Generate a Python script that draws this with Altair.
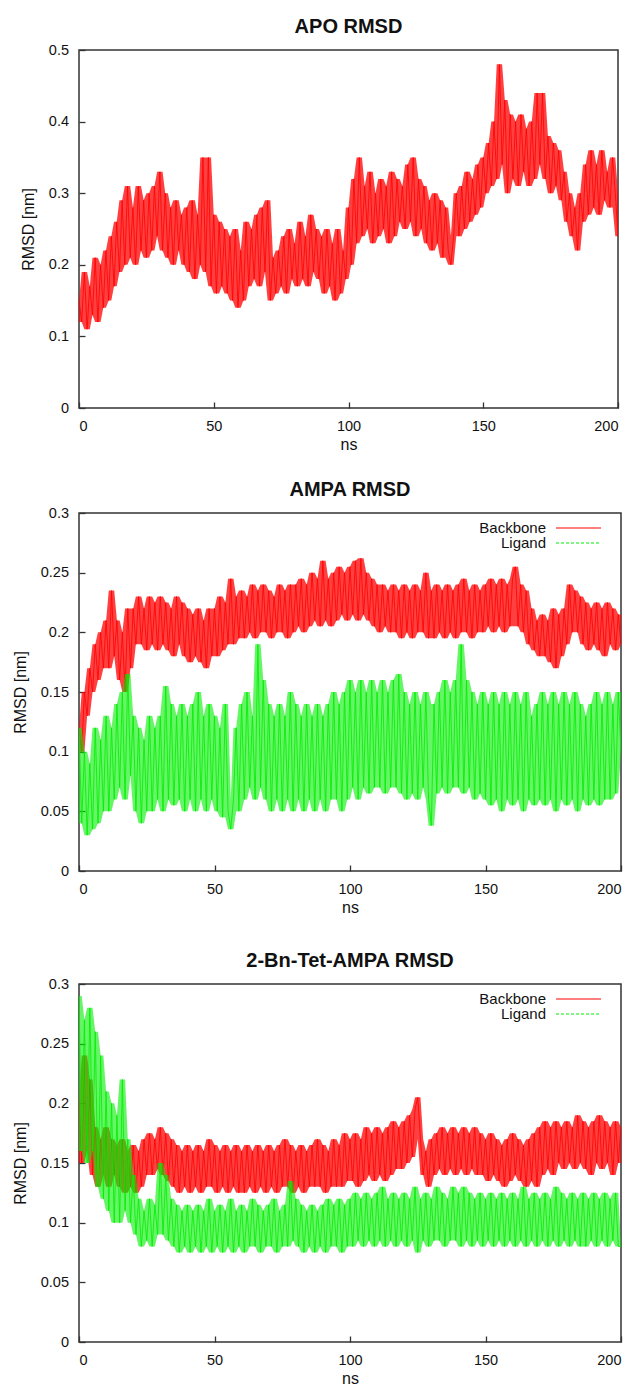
import altair as alt
import pandas as pd

# ---------------- data ----------------
ns = list(range(201))  # time in ns, one sample per ns

apo_backbone = [
    0.15, 0.12, 0.19, 0.11, 0.17, 0.13, 0.21, 0.12, 0.20, 0.14,
    0.22, 0.15, 0.24, 0.17, 0.26, 0.19, 0.29, 0.20, 0.31, 0.21,
    0.28, 0.20, 0.31, 0.22, 0.29, 0.21, 0.30, 0.22, 0.31, 0.24,
    0.33, 0.22, 0.30, 0.21, 0.28, 0.20, 0.29, 0.22, 0.27, 0.20,
    0.28, 0.19, 0.29, 0.18, 0.27, 0.20, 0.35, 0.19, 0.35, 0.17,
    0.27, 0.16, 0.26, 0.17, 0.25, 0.16, 0.24, 0.15, 0.25, 0.14,
    0.22, 0.15, 0.26, 0.17, 0.25, 0.18, 0.27, 0.17, 0.28, 0.19,
    0.29, 0.15, 0.21, 0.16, 0.22, 0.17, 0.24, 0.16, 0.25, 0.18,
    0.23, 0.17, 0.26, 0.18, 0.24, 0.17, 0.27, 0.19, 0.25, 0.18,
    0.24, 0.16, 0.25, 0.17, 0.23, 0.15, 0.25, 0.16, 0.22, 0.18,
    0.28, 0.20, 0.32, 0.23, 0.35, 0.24, 0.31, 0.25, 0.33, 0.23,
    0.30, 0.24, 0.32, 0.25, 0.31, 0.23, 0.33, 0.24, 0.32, 0.26,
    0.31, 0.25, 0.34, 0.26, 0.35, 0.24, 0.32, 0.25, 0.31, 0.23,
    0.29, 0.22, 0.30, 0.23, 0.29, 0.21, 0.28, 0.22, 0.20, 0.24,
    0.30, 0.24, 0.31, 0.25, 0.33, 0.26, 0.32, 0.27, 0.34, 0.28,
    0.35, 0.30, 0.37, 0.31, 0.40, 0.32, 0.48, 0.34, 0.43, 0.30,
    0.41, 0.32, 0.40, 0.31, 0.41, 0.33, 0.39, 0.31, 0.40, 0.32,
    0.44, 0.34, 0.44, 0.32, 0.38, 0.30, 0.37, 0.31, 0.36, 0.29,
    0.33, 0.26, 0.30, 0.24, 0.28, 0.22, 0.30, 0.26, 0.34, 0.27,
    0.36, 0.28, 0.34, 0.27, 0.36, 0.29, 0.33, 0.28, 0.35, 0.30,
    0.24,
]

ampa_backbone = [
    0.12, 0.10, 0.15, 0.13, 0.17, 0.15, 0.19, 0.16, 0.20, 0.17,
    0.21, 0.17, 0.235, 0.18, 0.21, 0.16, 0.20, 0.15, 0.22, 0.17,
    0.22, 0.19, 0.23, 0.19, 0.22, 0.185, 0.23, 0.19, 0.225, 0.185,
    0.23, 0.19, 0.225, 0.185, 0.22, 0.18, 0.23, 0.19, 0.225, 0.18,
    0.22, 0.175, 0.215, 0.18, 0.22, 0.175, 0.21, 0.17, 0.22, 0.18,
    0.22, 0.18, 0.23, 0.185, 0.225, 0.19, 0.245, 0.19, 0.23, 0.195,
    0.235, 0.195, 0.23, 0.20, 0.24, 0.195, 0.235, 0.20, 0.24, 0.20,
    0.235, 0.195, 0.23, 0.20, 0.24, 0.20, 0.235, 0.195, 0.24, 0.20,
    0.24, 0.205, 0.245, 0.20, 0.24, 0.205, 0.25, 0.21, 0.245, 0.205,
    0.26, 0.21, 0.245, 0.205, 0.25, 0.21, 0.255, 0.215, 0.25, 0.21,
    0.255, 0.215, 0.26, 0.21, 0.262, 0.215, 0.25, 0.21, 0.245, 0.205,
    0.24, 0.20, 0.24, 0.205, 0.235, 0.20, 0.24, 0.20, 0.235, 0.195,
    0.24, 0.20, 0.235, 0.195, 0.24, 0.20, 0.235, 0.20, 0.25, 0.195,
    0.235, 0.195, 0.24, 0.20, 0.235, 0.195, 0.24, 0.20, 0.235, 0.195,
    0.24, 0.20, 0.245, 0.20, 0.235, 0.195, 0.24, 0.20, 0.235, 0.20,
    0.24, 0.205, 0.245, 0.20, 0.24, 0.205, 0.245, 0.20, 0.24, 0.205,
    0.245, 0.255, 0.205, 0.24, 0.20, 0.235, 0.19, 0.22, 0.185, 0.21,
    0.18, 0.215, 0.18, 0.21, 0.175, 0.22, 0.17, 0.215, 0.18, 0.22,
    0.19, 0.24, 0.20, 0.235, 0.20, 0.23, 0.19, 0.225, 0.185, 0.22,
    0.19, 0.225, 0.185, 0.22, 0.18, 0.225, 0.19, 0.22, 0.185, 0.215,
    0.19,
]

ampa_ligand = [
    0.12, 0.04, 0.10, 0.03, 0.09, 0.035, 0.12, 0.04, 0.11, 0.05,
    0.13, 0.05, 0.12, 0.06, 0.14, 0.07, 0.15, 0.06, 0.165, 0.08,
    0.13, 0.05, 0.12, 0.04, 0.11, 0.05, 0.13, 0.05, 0.12, 0.06,
    0.13, 0.05, 0.155, 0.06, 0.14, 0.055, 0.13, 0.06, 0.14, 0.05,
    0.13, 0.06, 0.14, 0.05, 0.15, 0.06, 0.13, 0.05, 0.14, 0.06,
    0.13, 0.05, 0.12, 0.045, 0.14, 0.05, 0.035, 0.06, 0.12, 0.05,
    0.14, 0.06, 0.15, 0.07, 0.13, 0.06, 0.19, 0.07, 0.16, 0.06,
    0.14, 0.05, 0.13, 0.06, 0.14, 0.05, 0.13, 0.06, 0.15, 0.05,
    0.14, 0.06, 0.13, 0.05, 0.14, 0.06, 0.13, 0.05, 0.14, 0.06,
    0.13, 0.05, 0.14, 0.06, 0.15, 0.06, 0.14, 0.05, 0.15, 0.06,
    0.16, 0.07, 0.15, 0.06, 0.16, 0.07, 0.15, 0.065, 0.16, 0.07,
    0.15, 0.07, 0.16, 0.065, 0.15, 0.07, 0.16, 0.07, 0.165, 0.065,
    0.15, 0.06, 0.14, 0.065, 0.15, 0.06, 0.14, 0.07, 0.15, 0.06,
    0.038, 0.14, 0.065, 0.15, 0.07, 0.16, 0.065, 0.15, 0.07, 0.16,
    0.07, 0.19, 0.065, 0.16, 0.07, 0.15, 0.06, 0.14, 0.065, 0.15,
    0.06, 0.14, 0.055, 0.15, 0.06, 0.14, 0.05, 0.15, 0.06, 0.14,
    0.055, 0.15, 0.06, 0.14, 0.05, 0.15, 0.06, 0.13, 0.055, 0.14,
    0.06, 0.15, 0.055, 0.14, 0.06, 0.15, 0.05, 0.14, 0.06, 0.15,
    0.055, 0.14, 0.06, 0.15, 0.05, 0.14, 0.06, 0.13, 0.055, 0.14,
    0.06, 0.15, 0.055, 0.14, 0.06, 0.15, 0.06, 0.14, 0.065, 0.15,
    0.10,
]

bn_backbone = [
    0.20, 0.15, 0.24, 0.16, 0.22, 0.14, 0.18, 0.13, 0.17, 0.14,
    0.18, 0.13, 0.17, 0.14, 0.165, 0.13, 0.17, 0.125, 0.16, 0.13,
    0.165, 0.125, 0.16, 0.13, 0.17, 0.14, 0.175, 0.14, 0.17, 0.145,
    0.18, 0.14, 0.175, 0.135, 0.17, 0.13, 0.165, 0.125, 0.16, 0.13,
    0.165, 0.125, 0.16, 0.13, 0.165, 0.125, 0.16, 0.13, 0.17, 0.13,
    0.165, 0.125, 0.16, 0.13, 0.165, 0.125, 0.16, 0.13, 0.165, 0.125,
    0.16, 0.125, 0.165, 0.13, 0.16, 0.125, 0.165, 0.13, 0.16, 0.125,
    0.165, 0.13, 0.16, 0.125, 0.165, 0.13, 0.17, 0.13, 0.165, 0.125,
    0.16, 0.13, 0.165, 0.125, 0.16, 0.13, 0.165, 0.13, 0.17, 0.13,
    0.165, 0.125, 0.16, 0.13, 0.17, 0.13, 0.165, 0.13, 0.175, 0.135,
    0.17, 0.135, 0.175, 0.13, 0.17, 0.135, 0.18, 0.14, 0.175, 0.135,
    0.18, 0.14, 0.175, 0.135, 0.18, 0.14, 0.185, 0.145, 0.18, 0.145,
    0.185, 0.15, 0.19, 0.155, 0.195, 0.205, 0.17, 0.14, 0.16, 0.13,
    0.17, 0.14, 0.175, 0.145, 0.18, 0.14, 0.175, 0.145, 0.18, 0.14,
    0.175, 0.145, 0.18, 0.14, 0.175, 0.145, 0.18, 0.14, 0.175, 0.14,
    0.17, 0.135, 0.175, 0.14, 0.17, 0.135, 0.165, 0.13, 0.17, 0.135,
    0.175, 0.14, 0.17, 0.135, 0.165, 0.13, 0.17, 0.135, 0.175, 0.13,
    0.18, 0.14, 0.185, 0.145, 0.18, 0.14, 0.185, 0.15, 0.18, 0.145,
    0.185, 0.15, 0.18, 0.145, 0.19, 0.15, 0.185, 0.145, 0.18, 0.14,
    0.185, 0.15, 0.19, 0.145, 0.185, 0.15, 0.18, 0.14, 0.185, 0.15,
    0.18,
]

bn_ligand = [
    0.29, 0.16, 0.27, 0.15, 0.28, 0.16, 0.26, 0.13, 0.24, 0.12,
    0.21, 0.11, 0.20, 0.10, 0.19, 0.10, 0.22, 0.11, 0.17, 0.10,
    0.14, 0.09, 0.12, 0.08, 0.11, 0.085, 0.12, 0.08, 0.115, 0.09,
    0.15, 0.09, 0.14, 0.085, 0.12, 0.08, 0.115, 0.075, 0.11, 0.08,
    0.115, 0.075, 0.11, 0.08, 0.115, 0.075, 0.11, 0.08, 0.12, 0.075,
    0.11, 0.08, 0.115, 0.075, 0.11, 0.08, 0.12, 0.075, 0.11, 0.08,
    0.115, 0.075, 0.11, 0.08, 0.12, 0.08, 0.115, 0.075, 0.11, 0.08,
    0.115, 0.08, 0.12, 0.075, 0.11, 0.08, 0.115, 0.08, 0.135, 0.085,
    0.12, 0.08, 0.115, 0.075, 0.11, 0.08, 0.115, 0.075, 0.11, 0.08,
    0.115, 0.075, 0.12, 0.08, 0.115, 0.08, 0.12, 0.075, 0.115, 0.08,
    0.12, 0.08, 0.125, 0.085, 0.12, 0.08, 0.125, 0.085, 0.12, 0.08,
    0.125, 0.085, 0.13, 0.08, 0.12, 0.085, 0.125, 0.08, 0.12, 0.085,
    0.125, 0.08, 0.12, 0.085, 0.13, 0.075, 0.12, 0.085, 0.125, 0.08,
    0.12, 0.085, 0.13, 0.085, 0.125, 0.08, 0.12, 0.085, 0.13, 0.085,
    0.125, 0.08, 0.13, 0.085, 0.125, 0.08, 0.12, 0.085, 0.125, 0.08,
    0.12, 0.085, 0.125, 0.08, 0.12, 0.085, 0.125, 0.08, 0.12, 0.085,
    0.125, 0.08, 0.12, 0.085, 0.13, 0.08, 0.12, 0.085, 0.125, 0.08,
    0.12, 0.085, 0.125, 0.08, 0.12, 0.085, 0.13, 0.08, 0.125, 0.085,
    0.12, 0.08, 0.125, 0.085, 0.12, 0.08, 0.125, 0.08, 0.12, 0.085,
    0.125, 0.08, 0.12, 0.085, 0.125, 0.08, 0.12, 0.085, 0.125, 0.08,
    0.08,
]

panel_titles = ["APO RMSD", "AMPA RMSD", "2-Bn-Tet-AMPA RMSD"]
x_title = "ns"
y_title = "RMSD [nm]"
series_names = ["Backbone", "Ligand"]
x_ticks = [0, 50, 100, 150, 200]
y_ticks_apo = [0, 0.1, 0.2, 0.3, 0.4, 0.5]
y_ticks_lig = [0, 0.05, 0.1, 0.15, 0.2, 0.25, 0.3]

# ---------------- styling ----------------
FONT = "Liberation Sans"
COLORS = {"Backbone": "#ff0000", "Ligand": "#00ee00"}
BAND_OPACITY = {"Backbone": 0.75, "Ligand": 0.6}
FRAME = "#333333"
TEXT = "#111111"


def x_enc():
    return alt.X(
        "ns:Q", scale=alt.Scale(domain=[0, 200], nice=False),
        axis=alt.Axis(
            values=x_ticks, title=x_title, grid=False, domain=False,
            tickSize=alt.ExprRef(expr="-6"), tickColor=FRAME, tickWidth=1.3,
            labelPadding=17, labelFontSize=14.5, labelFont=FONT, labelColor=TEXT,
            titleFont=FONT, titleFontSize=16, titleFontWeight="normal",
            titleColor=TEXT, titlePadding=4, format="d",
        ),
    )


def y_enc(field, y_max, ticks, tpad):
    return alt.Y(
        field, scale=alt.Scale(domain=[0, y_max], nice=False),
        axis=alt.Axis(
            values=ticks, title=y_title, grid=False, domain=False,
            tickSize=alt.ExprRef(expr="-6"), tickColor=FRAME, tickWidth=1.3,
            labelPadding=16.5, labelFontSize=14.5, labelFont=FONT, labelColor=TEXT,
            titleFont=FONT, titleFontSize=16, titleFontWeight="normal",
            titleColor=TEXT, titlePadding=tpad, format="~g",
        ),
    )


def panel(series, title, width, y_max, y_ticks, tpad, with_legend, title_offset):
    layers = []
    for name, vals in series:
        df = pd.DataFrame({"ns": ns, "rmsd": vals})
        color = COLORS[name]
        band = alt.Chart(df).transform_window(
            lo="min(rmsd)", hi="max(rmsd)", frame=[-1, 1], sort=[alt.SortField("ns")]
        ).mark_area(color=color, opacity=BAND_OPACITY[name], clip=True).encode(
            x=x_enc(), y=y_enc("lo:Q", y_max, y_ticks, tpad), y2="hi:Q"
        )
        line = alt.Chart(df).mark_line(color=color, strokeWidth=0.8, clip=True).encode(
            x=x_enc(), y=y_enc("rmsd:Q", y_max, y_ticks, tpad)
        )
        layers += [band, line]
    if with_legend:
        lx = width - 75
        for i, name in enumerate(series_names):
            yy = 15 + 15 * i
            ldf = pd.DataFrame({"label": [name]})
            txt = alt.Chart(ldf).mark_text(
                align="right", baseline="middle", font=FONT, fontSize=15, color=TEXT
            ).encode(x=alt.value(lx), y=alt.value(yy), text="label:N")
            rule = alt.Chart(ldf).mark_rule(
                strokeWidth=1.2, color=COLORS[name],
                strokeDash=[1, 0] if i == 0 else [3, 2],
            ).encode(x=alt.value(lx + 10), x2=alt.value(lx + 55), y=alt.value(yy))
            layers += [txt, rule]
    return alt.layer(*layers).properties(
        width=width, height=358,
        title=alt.TitleParams(title, font=FONT, fontSize=20, fontWeight="bold",
                              color=TEXT, anchor="middle", frame="group",
                              baseline="alphabetic", offset=title_offset),
    )


p1 = panel([("Backbone", apo_backbone)], panel_titles[0], 539, 0.5, y_ticks_apo, 12, False, -11)
p2 = panel([("Backbone", ampa_backbone), ("Ligand", ampa_ligand)],
           panel_titles[1], 542, 0.3, y_ticks_lig, 12, True, -11)
p3 = panel([("Backbone", bn_backbone), ("Ligand", bn_ligand)],
           panel_titles[2], 542, 0.3, y_ticks_lig, 12, True, -11)

top_pair = alt.concat(p1, p2, columns=1, spacing=25, align="none")
chart = alt.concat(top_pair, p3, columns=1, spacing=33, align="none").properties(
    padding={"top": 8, "left": 3, "right": 5, "bottom": 5},
    background="white",
).configure_view(stroke=FRAME, strokeWidth=1.5)

chart.save("out.html", embed_options={"renderer": "svg", "actions": False})
